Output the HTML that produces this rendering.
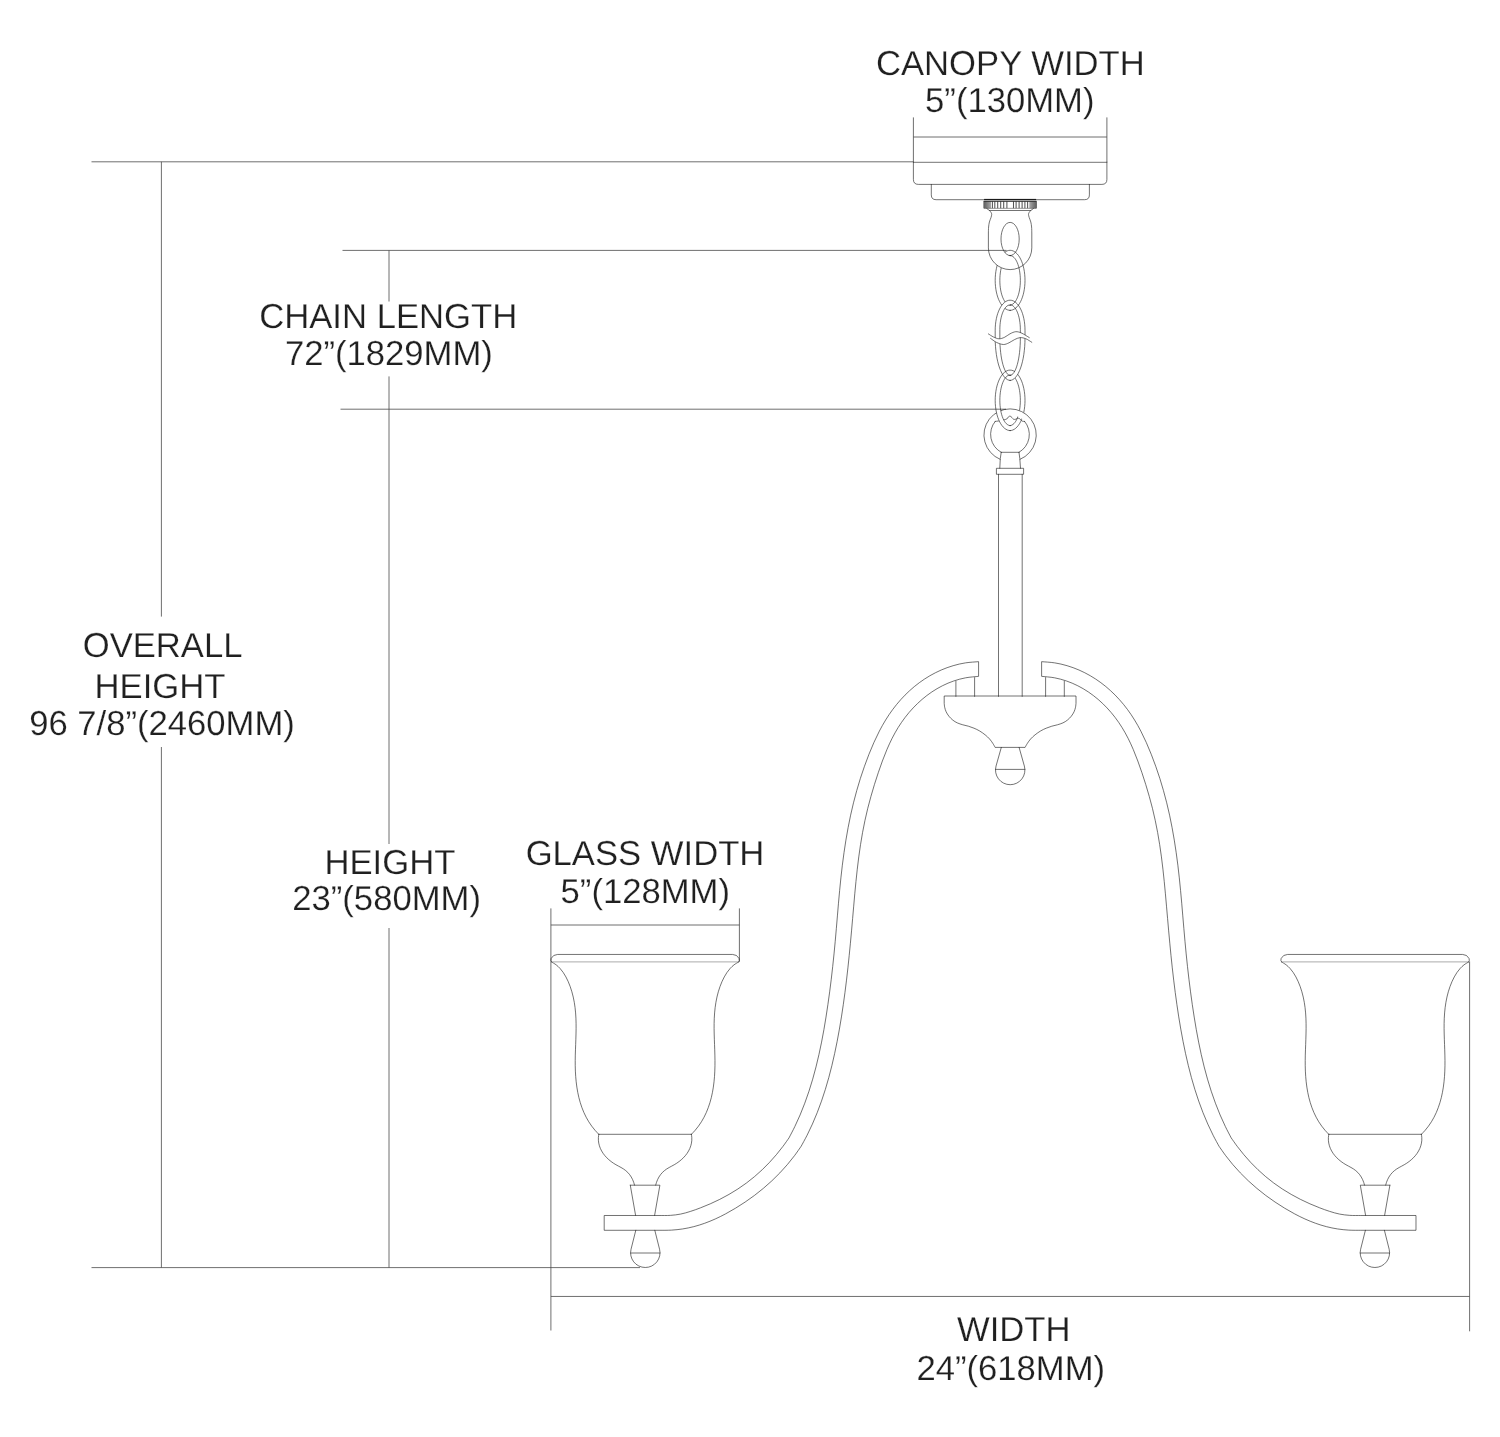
<!DOCTYPE html>
<html lang="en">
<head>
<meta charset="utf-8">
<title>Chandelier dimension diagram</title>
<style>
html,body{margin:0;padding:0;background:#fff;}
body{width:1500px;height:1437px;overflow:hidden;font-family:"Liberation Sans",sans-serif;}
svg{display:block;}
</style>
</head>
<body>
<svg width="1500" height="1437" viewBox="0 0 1500 1437">
<rect width="1500" height="1437" fill="#fff"/>
<path d="M91.5 161.8H913.4M91.5 1267.6H640M161.4 161.8V616.6M161.4 747V1267.6M342.5 250.4H1006.5M340.5 409.2H1006M389 250.4V301.5M389 376.4V844M389 928V1267.6M913.4 117.4V162M1106.9 117.4V162M913.4 137H1106.9M550.9 908.4V1330.5M739.4 908.4V961.8M550.9 925H739.4M550.9 1296.45H1469.6M1469.6 961.5V1331.3" fill="none" stroke="#4a4a4a" stroke-width="0.8"/>
<g fill="none" stroke="#1c1c1c" stroke-width="0.62" stroke-linecap="round" stroke-linejoin="round">
<path d="M913.4 162.3V179.4Q913.4 184.4 918.4 184.4H1101.9Q1106.9 184.4 1106.9 179.4V162.3M913.4 162.3H1106.9M931.3 184.4V194.9Q931.3 199.7 936.1 199.7H1084.6Q1089.4 199.7 1089.4 194.9V184.4"/>
<defs><linearGradient id="gl" x1="0" x2="1" y1="0" y2="0"><stop offset="0" stop-color="#5a5a5a"/><stop offset="0.5" stop-color="#808080"/><stop offset="1" stop-color="#a8a8a8"/></linearGradient><linearGradient id="gr" x1="1" x2="0" y1="0" y2="0"><stop offset="0" stop-color="#5a5a5a"/><stop offset="0.5" stop-color="#808080"/><stop offset="1" stop-color="#a8a8a8"/></linearGradient></defs>
<rect x="984.1" y="198.9" width="52" height="1.25" fill="#1a1a1a" stroke="none"/>
<path d="M983.3 201.2H1036.9V207.6Q1036.9 208.6 1035.9 208.6H984.3Q983.3 208.6 983.3 207.6Z" fill="#fff" stroke="none"/>
<rect x="983.4" y="201.4" width="7.6" height="7" fill="url(#gl)" stroke="none"/>
<rect x="1029.3" y="201.4" width="7.6" height="7" fill="url(#gr)" stroke="none"/>
<path d="M992.4 201.6V208.2M994.8 201.6V208.2M997.7 201.6V208.2M1000.7 201.6V208.2M1003.7 201.6V208.2M1006.9 201.6V208.2M1013.5 201.6V208.2M1016.1 201.6V208.2M1019.1 201.6V208.2M1022.1 201.6V208.2M1024.9 201.6V208.2M1027.6 201.6V208.2" stroke="#555" stroke-width="1.05" stroke-linecap="butt"/>
<path d="M983.6 201.3H1036.6" stroke="#111" stroke-width="0.9" stroke-linecap="butt"/>
<path d="M984 208.35H1036.2" stroke="#555" stroke-width="0.6" stroke-linecap="butt"/>
<path d="M986.8 208.6L989.5 210.5C989.75 210.82 990.63 211.75 991 212.4C991.37 213.05 991.7 213.55 991.7 214.4C991.7 215.25 991.38 216.23 991 217.5C990.62 218.77 989.8 220.42 989.4 222C989 223.58 988.77 225.17 988.6 227C988.43 228.83 988.43 232 988.4 233V247.9A21.65 21.65 0 0 0 1031.8 247.9V233C1031.77 232 1031.77 228.83 1031.6 227C1031.43 225.17 1031.2 223.58 1030.8 222C1030.4 220.42 1029.58 218.77 1029.2 217.5C1028.82 216.23 1028.5 215.25 1028.5 214.4C1028.5 213.55 1028.83 213.05 1029.2 212.4C1029.57 211.75 1030.45 210.82 1030.7 210.5L1033.4 208.6M989.5 210.5H1030.7"/>
<path d="M1010.1 255.6C1005.07 255.6 1001 248.17 1001 239C1001 229.83 1005.07 222.4 1010.1 222.4C1015.13 222.4 1019.2 229.83 1019.2 239C1019.2 248.17 1015.13 255.6 1010.1 255.6Z"/>
<defs>
<clipPath id="lh"><rect x="960" y="190" width="50.1" height="300"/></clipPath>
<clipPath id="rh"><rect x="1010.1" y="190" width="60" height="300"/></clipPath>
<mask id="m1" maskUnits="userSpaceOnUse" x="960" y="190" width="100" height="300"><rect x="960" y="190" width="100" height="300" fill="#fff" stroke="none"/><path d="M988.4 215V247.9A21.65 21.65 0 0 0 1031.8 247.9V215ZM1010.1 255.6C1005.07 255.6 1001 248.17 1001 239C1001 229.83 1005.07 222.4 1010.1 222.4C1015.13 222.4 1019.2 229.83 1019.2 239C1019.2 248.17 1015.13 255.6 1010.1 255.6Z" fill="#000" stroke="none" fill-rule="evenodd" clip-path="url(#lh)"/><path d="M1010.1 380.45C1001.87 380.45 995.2 361.44 995.2 338V330.25C995.2 313.65 1001.87 300.2 1010.1 300.2C1018.33 300.2 1025 313.65 1025 330.25V338C1025 361.44 1018.33 380.45 1010.1 380.45ZM1010.1 375.5C1004.44 375.5 999.85 358.71 999.85 338V329.65C999.85 315.98 1004.44 304.9 1010.1 304.9C1015.76 304.9 1020.35 315.98 1020.35 329.65V338C1020.35 358.71 1015.76 375.5 1010.1 375.5Z" fill="#000" stroke="none" fill-rule="evenodd" clip-path="url(#lh)"/></mask>
<mask id="m3" maskUnits="userSpaceOnUse" x="960" y="190" width="100" height="300"><rect x="960" y="190" width="100" height="300" fill="#fff" stroke="none"/><path d="M1010.1 380.45C1001.87 380.45 995.2 361.44 995.2 338V330.25C995.2 313.65 1001.87 300.2 1010.1 300.2C1018.33 300.2 1025 313.65 1025 330.25V338C1025 361.44 1018.33 380.45 1010.1 380.45ZM1010.1 375.5C1004.44 375.5 999.85 358.71 999.85 338V329.65C999.85 315.98 1004.44 304.9 1010.1 304.9C1015.76 304.9 1020.35 315.98 1020.35 329.65V338C1020.35 358.71 1015.76 375.5 1010.1 375.5Z" fill="#000" stroke="none" fill-rule="evenodd" clip-path="url(#rh)"/><path d="M1010.1 461.3C995.63 461.3 983.9 449.57 983.9 435.1C983.9 420.63 995.63 408.9 1010.1 408.9C1024.57 408.9 1036.3 420.63 1036.3 435.1C1036.3 449.57 1024.57 461.3 1010.1 461.3ZM1010.1 455.3C998.94 455.3 989.9 446.26 989.9 435.1C989.9 423.94 998.94 414.9 1010.1 414.9C1021.26 414.9 1030.3 423.94 1030.3 435.1C1030.3 446.26 1021.26 455.3 1010.1 455.3Z" fill="#000" stroke="none" fill-rule="evenodd" clip-path="url(#rh)"/></mask>
<mask id="mr" maskUnits="userSpaceOnUse" x="960" y="190" width="100" height="300"><rect x="960" y="190" width="100" height="300" fill="#fff" stroke="none"/><path d="M1010.1 430.6C1001.87 430.6 995.2 417.06 995.2 400.35C995.2 383.64 1001.87 370.1 1010.1 370.1C1018.33 370.1 1025 383.64 1025 400.35C1025 417.06 1018.33 430.6 1010.1 430.6ZM1010.1 425.6C1004.44 425.6 999.85 414.27 999.85 400.3C999.85 386.33 1004.44 375 1010.1 375C1015.76 375 1020.35 386.33 1020.35 400.3C1020.35 414.27 1015.76 425.6 1010.1 425.6Z" fill="#000" stroke="none" fill-rule="evenodd" clip-path="url(#lh)"/></mask>
</defs>
<path d="M1010.1 310.4C1001.87 310.4 995.2 296.95 995.2 280.35C995.2 263.75 1001.87 250.3 1010.1 250.3C1018.33 250.3 1025 263.75 1025 280.35C1025 296.95 1018.33 310.4 1010.1 310.4ZM1010.1 305.1C1004.44 305.1 999.85 294.02 999.85 280.35C999.85 266.68 1004.44 255.6 1010.1 255.6C1015.76 255.6 1020.35 266.68 1020.35 280.35C1020.35 294.02 1015.76 305.1 1010.1 305.1Z" mask="url(#m1)"/>
<path d="M1010.1 380.45C1001.87 380.45 995.2 361.44 995.2 338V330.25C995.2 313.65 1001.87 300.2 1010.1 300.2C1018.33 300.2 1025 313.65 1025 330.25V338C1025 361.44 1018.33 380.45 1010.1 380.45ZM1010.1 375.5C1004.44 375.5 999.85 358.71 999.85 338V329.65C999.85 315.98 1004.44 304.9 1010.1 304.9C1015.76 304.9 1020.35 315.98 1020.35 329.65V338C1020.35 358.71 1015.76 375.5 1010.1 375.5Z"/>
<path d="M988.4 333.9C989.25 334.42 991.73 336.18 993.5 337C995.27 337.82 997.17 338.75 999 338.8C1000.83 338.85 1002.67 338.13 1004.5 337.3C1006.33 336.47 1008.13 334.73 1010 333.8C1011.87 332.87 1013.87 331.87 1015.7 331.7C1017.53 331.53 1019.37 332.2 1021 332.8C1022.63 333.4 1024.12 334.5 1025.5 335.3C1026.88 336.1 1028.67 337.22 1029.3 337.6L1031.8 342.3C1031.33 342 1030.05 341.12 1029 340.5C1027.95 339.88 1026.98 339.08 1025.5 338.6C1024.02 338.12 1021.93 337.43 1020.1 337.6C1018.27 337.77 1016.35 338.73 1014.5 339.6C1012.65 340.47 1010.85 341.98 1009 342.8C1007.15 343.62 1005.48 344.57 1003.4 344.5C1001.32 344.43 998.63 343.42 996.5 342.4C994.37 341.38 991.58 339.07 990.6 338.4Z" fill="#fff" stroke="none"/>
<path d="M988.4 333.9C989.25 334.42 991.73 336.18 993.5 337C995.27 337.82 997.17 338.75 999 338.8C1000.83 338.85 1002.67 338.13 1004.5 337.3C1006.33 336.47 1008.13 334.73 1010 333.8C1011.87 332.87 1013.87 331.87 1015.7 331.7C1017.53 331.53 1019.37 332.2 1021 332.8C1022.63 333.4 1024.12 334.5 1025.5 335.3C1026.88 336.1 1028.67 337.22 1029.3 337.6M990.6 338.4C991.58 339.07 994.37 341.38 996.5 342.4C998.63 343.42 1001.32 344.43 1003.4 344.5C1005.48 344.57 1007.15 343.62 1009 342.8C1010.85 341.98 1012.65 340.47 1014.5 339.6C1016.35 338.73 1018.27 337.77 1020.1 337.6C1021.93 337.43 1024.02 338.12 1025.5 338.6C1026.98 339.08 1027.95 339.88 1029 340.5C1030.05 341.12 1031.33 342 1031.8 342.3"/>
<path d="M1010.1 430.6C1001.87 430.6 995.2 417.06 995.2 400.35C995.2 383.64 1001.87 370.1 1010.1 370.1C1018.33 370.1 1025 383.64 1025 400.35C1025 417.06 1018.33 430.6 1010.1 430.6ZM1010.1 425.6C1004.44 425.6 999.85 414.27 999.85 400.3C999.85 386.33 1004.44 375 1010.1 375C1015.76 375 1020.35 386.33 1020.35 400.3C1020.35 414.27 1015.76 425.6 1010.1 425.6Z" mask="url(#m3)"/>
<path d="M999.98 459.27A26.2 26.2 0 1 1 1020.13 459.3M995.2 421.4A20.2 20.2 0 0 0 1001.2 452.3M1019 452.3A20.2 20.2 0 0 0 1024.6 421.4M995.2 421.4C995.75 421.33 997.45 421.13 998.5 421C999.55 420.87 1000.48 420.83 1001.5 420.6C1002.52 420.37 1003.72 419.87 1004.6 419.6C1005.48 419.33 1006.17 419.45 1006.8 419C1007.43 418.55 1007.85 417.38 1008.4 416.9C1008.95 416.42 1009.5 415.98 1010.1 416.1C1010.7 416.22 1011.42 417.07 1012 417.6C1012.58 418.13 1012.97 419.03 1013.6 419.3C1014.23 419.57 1015.17 419.37 1015.8 419.2C1016.43 419.03 1016.8 418.4 1017.4 418.3C1018 418.2 1018.8 418.32 1019.4 418.6C1020 418.88 1020.5 419.57 1021 420C1021.5 420.43 1021.8 420.97 1022.4 421.2C1023 421.43 1024.23 421.37 1024.6 421.4" mask="url(#mr)"/>
<path d="M1001.2 452.3H1019M1001.2 452.3L1000.3 458.5L999.8 468.2M1019 452.3L1019.8 458.5L1020.5 468.2"/>
<rect x="996.8" y="468.3" width="26.8" height="6"/>
<path d="M998.5 474.3V696.4M1022.2 474.3V696.4"/>
<path d="M944.2 696.4V703.4C944.28 704.05 944.38 705.92 944.7 707.3C945.02 708.68 945.4 710.22 946.1 711.7C946.8 713.18 947.78 714.8 948.9 716.2C950.02 717.6 951.4 718.98 952.8 720.1C954.2 721.22 955.63 722.12 957.3 722.9C958.97 723.68 960.95 724.25 962.8 724.8C964.65 725.35 966.53 725.63 968.4 726.2C970.27 726.77 972.15 727.42 974 728.2C975.85 728.98 977.65 729.8 979.5 730.9C981.35 732 983.42 733.45 985.1 734.8C986.78 736.15 988.3 737.55 989.6 739C990.9 740.45 991.98 742.1 992.9 743.5C993.82 744.9 994.73 746.75 995.1 747.4H1025.1C1025.47 746.75 1026.38 744.9 1027.3 743.5C1028.22 742.1 1029.3 740.45 1030.6 739C1031.9 737.55 1033.42 736.15 1035.1 734.8C1036.78 733.45 1038.85 732 1040.7 730.9C1042.55 729.8 1044.35 728.98 1046.2 728.2C1048.05 727.42 1049.93 726.77 1051.8 726.2C1053.67 725.63 1055.55 725.35 1057.4 724.8C1059.25 724.25 1061.23 723.68 1062.9 722.9C1064.57 722.12 1066 721.22 1067.4 720.1C1068.8 718.98 1070.18 717.6 1071.3 716.2C1072.42 714.8 1073.4 713.18 1074.1 711.7C1074.8 710.22 1075.18 708.68 1075.5 707.3C1075.82 705.92 1075.92 704.05 1076 703.4V696.4Z"/>
<path d="M1001.3 747.4L996.05 766.01A14.7 14.7 0 1 0 1024.35 766.01L1019.1 747.4M995.51 769.4H1024.89"/>
<g><path d="M978.2 661.7C976.08 661.89 969.68 662.2 965.5 662.86C961.31 663.53 957.16 664.49 953.11 665.69C949.06 666.88 945.07 668.35 941.2 670.03C937.33 671.7 933.53 673.63 929.89 675.74C926.24 677.85 922.71 680.19 919.33 682.68C915.95 685.18 912.69 687.88 909.59 690.72C906.48 693.56 903.51 696.57 900.7 699.71C897.88 702.84 895.21 706.14 892.69 709.52C890.18 712.91 887.83 716.43 885.61 720.02C883.39 723.61 881.34 727.32 879.38 731.07C877.43 734.83 875.62 738.67 873.88 742.55C872.14 746.42 870.52 750.36 868.95 754.31C867.38 758.26 865.89 762.25 864.47 766.25C863.04 770.25 861.69 774.28 860.4 778.32C859.12 782.37 857.9 786.44 856.75 790.52C855.59 794.6 854.51 798.69 853.49 802.8C852.47 806.91 851.52 811.04 850.62 815.17C849.73 819.31 848.89 823.45 848.11 827.61C847.32 831.77 846.6 835.93 845.91 840.11C845.23 844.29 844.6 848.47 844 852.66C843.41 856.85 842.86 861.05 842.34 865.26C841.82 869.46 841.35 873.67 840.9 877.89C840.44 882.1 840.03 886.32 839.63 890.54C839.23 894.76 838.85 898.99 838.48 903.21C838.11 907.44 837.76 911.67 837.41 915.89C837.05 920.12 836.7 924.35 836.34 928.58C835.98 932.81 835.62 937.03 835.23 941.26C834.84 945.48 834.44 949.71 834.02 953.93C833.6 958.15 833.16 962.37 832.7 966.59C832.24 970.8 831.76 975.02 831.25 979.23C830.75 983.44 830.22 987.65 829.66 991.85C829.11 996.06 828.53 1000.26 827.92 1004.46C827.31 1008.66 826.68 1012.86 826.01 1017.05C825.34 1021.24 824.65 1025.43 823.91 1029.61C823.17 1033.79 822.39 1037.96 821.57 1042.12C820.74 1046.28 819.88 1050.43 818.95 1054.56C818.02 1058.69 817.05 1062.81 816 1066.91C814.96 1071.01 813.86 1075.09 812.69 1079.15C811.52 1083.2 810.28 1087.24 808.96 1091.25C807.64 1095.26 806.25 1099.24 804.77 1103.2C803.29 1107.15 801.74 1111.08 800.08 1114.97C798.42 1118.86 796.68 1122.72 794.84 1126.54C792.99 1130.37 789.97 1136.01 789 1137.9C787.98 1139.33 785 1143.67 782.9 1146.45C780.8 1149.24 778.64 1151.97 776.41 1154.62C774.18 1157.28 771.89 1159.87 769.53 1162.39C767.16 1164.91 764.73 1167.36 762.23 1169.73C759.74 1172.1 757.17 1174.4 754.53 1176.62C751.9 1178.84 749.19 1180.98 746.42 1183.04C743.65 1185.1 740.8 1187.08 737.89 1188.97C734.98 1190.87 732 1192.68 728.98 1194.41C725.96 1196.15 722.87 1197.79 719.75 1199.36C716.62 1200.93 713.45 1202.42 710.25 1203.83C707.05 1205.24 703.8 1206.57 700.54 1207.82C697.28 1209.08 693.99 1210.3 690.68 1211.34C687.36 1212.38 684.04 1213.4 680.66 1214.07C677.28 1214.74 673.85 1215.14 670.41 1215.37C666.96 1215.61 661.73 1215.47 660 1215.49H604.2V1230.3L660 1230.29C661.9 1230.26 667.61 1230.36 671.38 1230.13C675.16 1229.91 678.94 1229.52 682.67 1228.94C686.41 1228.36 690.12 1227.59 693.79 1226.65C697.45 1225.71 701.08 1224.56 704.66 1223.28C708.23 1222 711.77 1220.54 715.25 1218.97C718.73 1217.41 722.17 1215.68 725.55 1213.89C728.93 1212.09 732.26 1210.17 735.53 1208.2C738.8 1206.22 742.01 1204.17 745.16 1202.04C748.31 1199.91 751.41 1197.71 754.44 1195.44C757.46 1193.16 760.43 1190.82 763.32 1188.39C766.22 1185.97 769.05 1183.47 771.8 1180.89C774.56 1178.31 777.24 1175.66 779.85 1172.92C782.46 1170.19 785 1167.38 787.45 1164.49C789.9 1161.6 792.28 1158.63 794.57 1155.59C796.86 1152.54 800.1 1147.76 801.2 1146.2C802.18 1144.38 805.22 1138.94 807.08 1135.26C808.95 1131.57 810.72 1127.84 812.4 1124.08C814.08 1120.32 815.67 1116.52 817.19 1112.69C818.7 1108.86 820.13 1105 821.49 1101.11C822.85 1097.23 824.13 1093.31 825.35 1089.38C826.57 1085.44 827.72 1081.48 828.81 1077.5C829.9 1073.53 830.92 1069.53 831.9 1065.51C832.88 1061.5 833.79 1057.47 834.67 1053.44C835.55 1049.4 836.37 1045.35 837.16 1041.3C837.95 1037.24 838.69 1033.18 839.41 1029.12C840.12 1025.05 840.8 1020.98 841.45 1016.91C842.09 1012.84 842.71 1008.76 843.29 1004.68C843.88 1000.6 844.44 996.51 844.98 992.42C845.51 988.34 846.02 984.25 846.51 980.15C847 976.06 847.46 971.96 847.91 967.86C848.36 963.76 848.78 959.66 849.2 955.55C849.62 951.45 850.01 947.34 850.4 943.23C850.79 939.12 851.17 935 851.54 930.89C851.91 926.77 852.26 922.66 852.62 918.54C852.98 914.42 853.33 910.3 853.69 906.18C854.05 902.07 854.4 897.95 854.78 893.83C855.16 889.71 855.54 885.6 855.96 881.49C856.37 877.38 856.8 873.27 857.27 869.17C857.74 865.07 858.23 860.98 858.77 856.89C859.32 852.8 859.89 848.72 860.52 844.65C861.16 840.58 861.83 836.52 862.57 832.47C863.31 828.42 864.1 824.38 864.97 820.36C865.84 816.34 866.77 812.32 867.76 808.32C868.76 804.33 869.82 800.34 870.94 796.37C872.05 792.4 873.23 788.44 874.45 784.49C875.67 780.55 876.95 776.61 878.27 772.7C879.59 768.78 880.94 764.87 882.39 761C883.83 757.13 885.32 753.27 886.94 749.49C888.56 745.71 890.26 741.95 892.12 738.3C893.99 734.64 895.97 731.03 898.14 727.54C900.31 724.06 902.65 720.64 905.15 717.37C907.65 714.1 910.33 710.92 913.15 707.93C915.97 704.93 918.96 702.06 922.07 699.4C925.19 696.73 928.46 694.22 931.85 691.95C935.25 689.67 938.78 687.58 942.42 685.75C946.07 683.92 949.84 682.3 953.72 680.98C957.59 679.65 961.58 678.57 965.66 677.8C969.75 677.04 976.11 676.63 978.2 676.4ZM955.9 681.2V696.4M974.6 677.6V696.4"/><path d="M551.6 962C552.36 962.47 554.76 963.77 556.16 964.83C557.56 965.89 558.81 967.09 559.98 968.36C561.15 969.63 562.2 971.01 563.19 972.44C564.18 973.86 565.07 975.38 565.91 976.92C566.75 978.46 567.53 980.06 568.25 981.69C568.97 983.31 569.63 984.98 570.23 986.67C570.84 988.36 571.39 990.08 571.89 991.81C572.39 993.54 572.84 995.3 573.24 997.06C573.64 998.81 573.98 1000.59 574.29 1002.35C574.59 1004.12 574.85 1005.89 575.07 1007.65C575.29 1009.41 575.46 1011.18 575.6 1012.93C575.75 1014.69 575.85 1016.45 575.93 1018.21C576.01 1019.96 576.06 1021.72 576.08 1023.47C576.11 1025.22 576.11 1026.98 576.1 1028.73C576.09 1030.48 576.05 1032.24 576.01 1033.99C575.97 1035.74 575.91 1037.5 575.85 1039.25C575.79 1041.01 575.72 1042.76 575.66 1044.52C575.6 1046.28 575.53 1048.04 575.47 1049.8C575.41 1051.57 575.35 1053.33 575.31 1055.1C575.27 1056.87 575.23 1058.64 575.22 1060.41C575.21 1062.19 575.21 1063.96 575.24 1065.75C575.27 1067.53 575.31 1069.31 575.39 1071.1C575.46 1072.88 575.56 1074.67 575.69 1076.45C575.83 1078.23 575.98 1080.01 576.18 1081.79C576.37 1083.56 576.59 1085.33 576.85 1087.09C577.11 1088.85 577.41 1090.6 577.74 1092.34C578.08 1094.08 578.45 1095.81 578.87 1097.52C579.29 1099.23 579.75 1100.93 580.26 1102.61C580.76 1104.29 581.31 1105.96 581.92 1107.6C582.52 1109.24 583.17 1110.87 583.87 1112.46C584.58 1114.06 585.33 1115.64 586.15 1117.19C586.96 1118.73 587.83 1120.26 588.75 1121.75C589.68 1123.24 590.67 1124.7 591.72 1126.13C592.77 1127.56 593.88 1128.96 595.06 1130.32C596.24 1131.68 598.18 1133.64 598.8 1134.3M738.6 962C737.84 962.47 735.44 963.77 734.04 964.83C732.64 965.89 731.39 967.09 730.22 968.36C729.05 969.63 728 971.01 727.01 972.44C726.02 973.86 725.13 975.38 724.29 976.92C723.45 978.46 722.67 980.06 721.95 981.69C721.23 983.31 720.57 984.98 719.97 986.67C719.36 988.36 718.81 990.08 718.31 991.81C717.81 993.54 717.36 995.3 716.96 997.06C716.56 998.81 716.22 1000.59 715.91 1002.35C715.61 1004.12 715.35 1005.89 715.13 1007.65C714.91 1009.41 714.74 1011.18 714.6 1012.93C714.45 1014.69 714.35 1016.45 714.27 1018.21C714.19 1019.96 714.14 1021.72 714.12 1023.47C714.09 1025.22 714.09 1026.98 714.1 1028.73C714.11 1030.48 714.15 1032.24 714.19 1033.99C714.23 1035.74 714.29 1037.5 714.35 1039.25C714.41 1041.01 714.48 1042.76 714.54 1044.52C714.6 1046.28 714.67 1048.04 714.73 1049.8C714.79 1051.57 714.85 1053.33 714.89 1055.1C714.93 1056.87 714.97 1058.64 714.98 1060.41C714.99 1062.19 714.99 1063.96 714.96 1065.75C714.93 1067.53 714.89 1069.31 714.81 1071.1C714.74 1072.88 714.64 1074.67 714.51 1076.45C714.37 1078.23 714.22 1080.01 714.02 1081.79C713.83 1083.56 713.61 1085.33 713.35 1087.09C713.09 1088.85 712.79 1090.6 712.46 1092.34C712.12 1094.08 711.75 1095.81 711.33 1097.52C710.91 1099.23 710.45 1100.93 709.94 1102.61C709.44 1104.29 708.89 1105.96 708.28 1107.6C707.68 1109.24 707.03 1110.87 706.33 1112.46C705.62 1114.06 704.87 1115.64 704.05 1117.19C703.24 1118.73 702.37 1120.26 701.45 1121.75C700.52 1123.24 699.53 1124.7 698.48 1126.13C697.43 1127.56 696.32 1128.96 695.14 1130.32C693.96 1131.68 692.02 1133.64 691.4 1134.3M551.6 962Q550.2 960.4 551.2 958.4Q553 954.6 557.6 954.45H732.6Q737.2 954.6 739 958.4Q740 960.4 738.6 962M598.8 1134.3C598.74 1134.8 598.48 1136.33 598.41 1137.32C598.35 1138.32 598.35 1139.3 598.4 1140.26C598.46 1141.22 598.58 1142.17 598.74 1143.1C598.91 1144.03 599.14 1144.94 599.41 1145.83C599.68 1146.73 600.01 1147.6 600.38 1148.46C600.75 1149.32 601.17 1150.16 601.63 1150.97C602.08 1151.79 602.59 1152.58 603.12 1153.36C603.66 1154.13 604.24 1154.89 604.84 1155.62C605.45 1156.35 606.1 1157.05 606.77 1157.74C607.44 1158.42 608.14 1159.08 608.86 1159.71C609.59 1160.35 610.34 1160.96 611.11 1161.54C611.88 1162.13 612.68 1162.68 613.48 1163.21C614.29 1163.74 615.12 1164.24 615.95 1164.72C616.79 1165.2 617.64 1165.65 618.48 1166.1C619.32 1166.56 620.17 1167 621 1167.47C621.82 1167.94 622.64 1168.4 623.43 1168.92C624.22 1169.44 624.99 1169.98 625.71 1170.58C626.44 1171.17 627.14 1171.81 627.8 1172.49C628.46 1173.16 629.08 1173.89 629.66 1174.65C630.24 1175.41 630.78 1176.21 631.27 1177.04C631.76 1177.87 632.21 1178.74 632.62 1179.62C633.02 1180.5 633.38 1181.41 633.7 1182.33C634.01 1183.24 634.37 1184.64 634.5 1185.1M691.4 1134.3C691.46 1134.8 691.72 1136.33 691.79 1137.32C691.85 1138.32 691.85 1139.3 691.8 1140.26C691.74 1141.22 691.62 1142.17 691.46 1143.1C691.29 1144.03 691.06 1144.94 690.79 1145.83C690.52 1146.73 690.19 1147.6 689.82 1148.46C689.45 1149.32 689.03 1150.16 688.57 1150.97C688.12 1151.79 687.61 1152.58 687.08 1153.36C686.54 1154.13 685.96 1154.89 685.36 1155.62C684.75 1156.35 684.1 1157.05 683.43 1157.74C682.76 1158.42 682.06 1159.08 681.34 1159.71C680.61 1160.35 679.86 1160.96 679.09 1161.54C678.32 1162.13 677.52 1162.68 676.72 1163.21C675.91 1163.74 675.08 1164.24 674.25 1164.72C673.41 1165.2 672.56 1165.65 671.72 1166.1C670.88 1166.56 670.03 1167 669.2 1167.47C668.38 1167.94 667.56 1168.4 666.77 1168.92C665.98 1169.44 665.21 1169.98 664.49 1170.58C663.76 1171.17 663.06 1171.81 662.4 1172.49C661.74 1173.16 661.12 1173.89 660.54 1174.65C659.96 1175.41 659.42 1176.21 658.93 1177.04C658.44 1177.87 657.99 1178.74 657.58 1179.62C657.18 1180.5 656.82 1181.41 656.5 1182.33C656.19 1183.24 655.83 1184.64 655.7 1185.1M598.8 1134.3H691.4M630.3 1185.2H659.9L654.6 1215.4M630.3 1185.2L635.6 1215.4M635.8 1230.3L631.04 1249.22A14.7 14.7 0 1 0 659.56 1249.22L654.8 1230.3M630.6 1253H660"/><path d="M551.8 961.9H738.4" stroke="#777"/></g>
<g transform="translate(2020.2 0) scale(-1 1)"><path d="M978.2 661.7C976.08 661.89 969.68 662.2 965.5 662.86C961.31 663.53 957.16 664.49 953.11 665.69C949.06 666.88 945.07 668.35 941.2 670.03C937.33 671.7 933.53 673.63 929.89 675.74C926.24 677.85 922.71 680.19 919.33 682.68C915.95 685.18 912.69 687.88 909.59 690.72C906.48 693.56 903.51 696.57 900.7 699.71C897.88 702.84 895.21 706.14 892.69 709.52C890.18 712.91 887.83 716.43 885.61 720.02C883.39 723.61 881.34 727.32 879.38 731.07C877.43 734.83 875.62 738.67 873.88 742.55C872.14 746.42 870.52 750.36 868.95 754.31C867.38 758.26 865.89 762.25 864.47 766.25C863.04 770.25 861.69 774.28 860.4 778.32C859.12 782.37 857.9 786.44 856.75 790.52C855.59 794.6 854.51 798.69 853.49 802.8C852.47 806.91 851.52 811.04 850.62 815.17C849.73 819.31 848.89 823.45 848.11 827.61C847.32 831.77 846.6 835.93 845.91 840.11C845.23 844.29 844.6 848.47 844 852.66C843.41 856.85 842.86 861.05 842.34 865.26C841.82 869.46 841.35 873.67 840.9 877.89C840.44 882.1 840.03 886.32 839.63 890.54C839.23 894.76 838.85 898.99 838.48 903.21C838.11 907.44 837.76 911.67 837.41 915.89C837.05 920.12 836.7 924.35 836.34 928.58C835.98 932.81 835.62 937.03 835.23 941.26C834.84 945.48 834.44 949.71 834.02 953.93C833.6 958.15 833.16 962.37 832.7 966.59C832.24 970.8 831.76 975.02 831.25 979.23C830.75 983.44 830.22 987.65 829.66 991.85C829.11 996.06 828.53 1000.26 827.92 1004.46C827.31 1008.66 826.68 1012.86 826.01 1017.05C825.34 1021.24 824.65 1025.43 823.91 1029.61C823.17 1033.79 822.39 1037.96 821.57 1042.12C820.74 1046.28 819.88 1050.43 818.95 1054.56C818.02 1058.69 817.05 1062.81 816 1066.91C814.96 1071.01 813.86 1075.09 812.69 1079.15C811.52 1083.2 810.28 1087.24 808.96 1091.25C807.64 1095.26 806.25 1099.24 804.77 1103.2C803.29 1107.15 801.74 1111.08 800.08 1114.97C798.42 1118.86 796.68 1122.72 794.84 1126.54C792.99 1130.37 789.97 1136.01 789 1137.9C787.98 1139.33 785 1143.67 782.9 1146.45C780.8 1149.24 778.64 1151.97 776.41 1154.62C774.18 1157.28 771.89 1159.87 769.53 1162.39C767.16 1164.91 764.73 1167.36 762.23 1169.73C759.74 1172.1 757.17 1174.4 754.53 1176.62C751.9 1178.84 749.19 1180.98 746.42 1183.04C743.65 1185.1 740.8 1187.08 737.89 1188.97C734.98 1190.87 732 1192.68 728.98 1194.41C725.96 1196.15 722.87 1197.79 719.75 1199.36C716.62 1200.93 713.45 1202.42 710.25 1203.83C707.05 1205.24 703.8 1206.57 700.54 1207.82C697.28 1209.08 693.99 1210.3 690.68 1211.34C687.36 1212.38 684.04 1213.4 680.66 1214.07C677.28 1214.74 673.85 1215.14 670.41 1215.37C666.96 1215.61 661.73 1215.47 660 1215.49H604.2V1230.3L660 1230.29C661.9 1230.26 667.61 1230.36 671.38 1230.13C675.16 1229.91 678.94 1229.52 682.67 1228.94C686.41 1228.36 690.12 1227.59 693.79 1226.65C697.45 1225.71 701.08 1224.56 704.66 1223.28C708.23 1222 711.77 1220.54 715.25 1218.97C718.73 1217.41 722.17 1215.68 725.55 1213.89C728.93 1212.09 732.26 1210.17 735.53 1208.2C738.8 1206.22 742.01 1204.17 745.16 1202.04C748.31 1199.91 751.41 1197.71 754.44 1195.44C757.46 1193.16 760.43 1190.82 763.32 1188.39C766.22 1185.97 769.05 1183.47 771.8 1180.89C774.56 1178.31 777.24 1175.66 779.85 1172.92C782.46 1170.19 785 1167.38 787.45 1164.49C789.9 1161.6 792.28 1158.63 794.57 1155.59C796.86 1152.54 800.1 1147.76 801.2 1146.2C802.18 1144.38 805.22 1138.94 807.08 1135.26C808.95 1131.57 810.72 1127.84 812.4 1124.08C814.08 1120.32 815.67 1116.52 817.19 1112.69C818.7 1108.86 820.13 1105 821.49 1101.11C822.85 1097.23 824.13 1093.31 825.35 1089.38C826.57 1085.44 827.72 1081.48 828.81 1077.5C829.9 1073.53 830.92 1069.53 831.9 1065.51C832.88 1061.5 833.79 1057.47 834.67 1053.44C835.55 1049.4 836.37 1045.35 837.16 1041.3C837.95 1037.24 838.69 1033.18 839.41 1029.12C840.12 1025.05 840.8 1020.98 841.45 1016.91C842.09 1012.84 842.71 1008.76 843.29 1004.68C843.88 1000.6 844.44 996.51 844.98 992.42C845.51 988.34 846.02 984.25 846.51 980.15C847 976.06 847.46 971.96 847.91 967.86C848.36 963.76 848.78 959.66 849.2 955.55C849.62 951.45 850.01 947.34 850.4 943.23C850.79 939.12 851.17 935 851.54 930.89C851.91 926.77 852.26 922.66 852.62 918.54C852.98 914.42 853.33 910.3 853.69 906.18C854.05 902.07 854.4 897.95 854.78 893.83C855.16 889.71 855.54 885.6 855.96 881.49C856.37 877.38 856.8 873.27 857.27 869.17C857.74 865.07 858.23 860.98 858.77 856.89C859.32 852.8 859.89 848.72 860.52 844.65C861.16 840.58 861.83 836.52 862.57 832.47C863.31 828.42 864.1 824.38 864.97 820.36C865.84 816.34 866.77 812.32 867.76 808.32C868.76 804.33 869.82 800.34 870.94 796.37C872.05 792.4 873.23 788.44 874.45 784.49C875.67 780.55 876.95 776.61 878.27 772.7C879.59 768.78 880.94 764.87 882.39 761C883.83 757.13 885.32 753.27 886.94 749.49C888.56 745.71 890.26 741.95 892.12 738.3C893.99 734.64 895.97 731.03 898.14 727.54C900.31 724.06 902.65 720.64 905.15 717.37C907.65 714.1 910.33 710.92 913.15 707.93C915.97 704.93 918.96 702.06 922.07 699.4C925.19 696.73 928.46 694.22 931.85 691.95C935.25 689.67 938.78 687.58 942.42 685.75C946.07 683.92 949.84 682.3 953.72 680.98C957.59 679.65 961.58 678.57 965.66 677.8C969.75 677.04 976.11 676.63 978.2 676.4ZM955.9 681.2V696.4M974.6 677.6V696.4"/><path d="M551.6 962C552.36 962.47 554.76 963.77 556.16 964.83C557.56 965.89 558.81 967.09 559.98 968.36C561.15 969.63 562.2 971.01 563.19 972.44C564.18 973.86 565.07 975.38 565.91 976.92C566.75 978.46 567.53 980.06 568.25 981.69C568.97 983.31 569.63 984.98 570.23 986.67C570.84 988.36 571.39 990.08 571.89 991.81C572.39 993.54 572.84 995.3 573.24 997.06C573.64 998.81 573.98 1000.59 574.29 1002.35C574.59 1004.12 574.85 1005.89 575.07 1007.65C575.29 1009.41 575.46 1011.18 575.6 1012.93C575.75 1014.69 575.85 1016.45 575.93 1018.21C576.01 1019.96 576.06 1021.72 576.08 1023.47C576.11 1025.22 576.11 1026.98 576.1 1028.73C576.09 1030.48 576.05 1032.24 576.01 1033.99C575.97 1035.74 575.91 1037.5 575.85 1039.25C575.79 1041.01 575.72 1042.76 575.66 1044.52C575.6 1046.28 575.53 1048.04 575.47 1049.8C575.41 1051.57 575.35 1053.33 575.31 1055.1C575.27 1056.87 575.23 1058.64 575.22 1060.41C575.21 1062.19 575.21 1063.96 575.24 1065.75C575.27 1067.53 575.31 1069.31 575.39 1071.1C575.46 1072.88 575.56 1074.67 575.69 1076.45C575.83 1078.23 575.98 1080.01 576.18 1081.79C576.37 1083.56 576.59 1085.33 576.85 1087.09C577.11 1088.85 577.41 1090.6 577.74 1092.34C578.08 1094.08 578.45 1095.81 578.87 1097.52C579.29 1099.23 579.75 1100.93 580.26 1102.61C580.76 1104.29 581.31 1105.96 581.92 1107.6C582.52 1109.24 583.17 1110.87 583.87 1112.46C584.58 1114.06 585.33 1115.64 586.15 1117.19C586.96 1118.73 587.83 1120.26 588.75 1121.75C589.68 1123.24 590.67 1124.7 591.72 1126.13C592.77 1127.56 593.88 1128.96 595.06 1130.32C596.24 1131.68 598.18 1133.64 598.8 1134.3M738.6 962C737.84 962.47 735.44 963.77 734.04 964.83C732.64 965.89 731.39 967.09 730.22 968.36C729.05 969.63 728 971.01 727.01 972.44C726.02 973.86 725.13 975.38 724.29 976.92C723.45 978.46 722.67 980.06 721.95 981.69C721.23 983.31 720.57 984.98 719.97 986.67C719.36 988.36 718.81 990.08 718.31 991.81C717.81 993.54 717.36 995.3 716.96 997.06C716.56 998.81 716.22 1000.59 715.91 1002.35C715.61 1004.12 715.35 1005.89 715.13 1007.65C714.91 1009.41 714.74 1011.18 714.6 1012.93C714.45 1014.69 714.35 1016.45 714.27 1018.21C714.19 1019.96 714.14 1021.72 714.12 1023.47C714.09 1025.22 714.09 1026.98 714.1 1028.73C714.11 1030.48 714.15 1032.24 714.19 1033.99C714.23 1035.74 714.29 1037.5 714.35 1039.25C714.41 1041.01 714.48 1042.76 714.54 1044.52C714.6 1046.28 714.67 1048.04 714.73 1049.8C714.79 1051.57 714.85 1053.33 714.89 1055.1C714.93 1056.87 714.97 1058.64 714.98 1060.41C714.99 1062.19 714.99 1063.96 714.96 1065.75C714.93 1067.53 714.89 1069.31 714.81 1071.1C714.74 1072.88 714.64 1074.67 714.51 1076.45C714.37 1078.23 714.22 1080.01 714.02 1081.79C713.83 1083.56 713.61 1085.33 713.35 1087.09C713.09 1088.85 712.79 1090.6 712.46 1092.34C712.12 1094.08 711.75 1095.81 711.33 1097.52C710.91 1099.23 710.45 1100.93 709.94 1102.61C709.44 1104.29 708.89 1105.96 708.28 1107.6C707.68 1109.24 707.03 1110.87 706.33 1112.46C705.62 1114.06 704.87 1115.64 704.05 1117.19C703.24 1118.73 702.37 1120.26 701.45 1121.75C700.52 1123.24 699.53 1124.7 698.48 1126.13C697.43 1127.56 696.32 1128.96 695.14 1130.32C693.96 1131.68 692.02 1133.64 691.4 1134.3M551.6 962Q550.2 960.4 551.2 958.4Q553 954.6 557.6 954.45H732.6Q737.2 954.6 739 958.4Q740 960.4 738.6 962M598.8 1134.3C598.74 1134.8 598.48 1136.33 598.41 1137.32C598.35 1138.32 598.35 1139.3 598.4 1140.26C598.46 1141.22 598.58 1142.17 598.74 1143.1C598.91 1144.03 599.14 1144.94 599.41 1145.83C599.68 1146.73 600.01 1147.6 600.38 1148.46C600.75 1149.32 601.17 1150.16 601.63 1150.97C602.08 1151.79 602.59 1152.58 603.12 1153.36C603.66 1154.13 604.24 1154.89 604.84 1155.62C605.45 1156.35 606.1 1157.05 606.77 1157.74C607.44 1158.42 608.14 1159.08 608.86 1159.71C609.59 1160.35 610.34 1160.96 611.11 1161.54C611.88 1162.13 612.68 1162.68 613.48 1163.21C614.29 1163.74 615.12 1164.24 615.95 1164.72C616.79 1165.2 617.64 1165.65 618.48 1166.1C619.32 1166.56 620.17 1167 621 1167.47C621.82 1167.94 622.64 1168.4 623.43 1168.92C624.22 1169.44 624.99 1169.98 625.71 1170.58C626.44 1171.17 627.14 1171.81 627.8 1172.49C628.46 1173.16 629.08 1173.89 629.66 1174.65C630.24 1175.41 630.78 1176.21 631.27 1177.04C631.76 1177.87 632.21 1178.74 632.62 1179.62C633.02 1180.5 633.38 1181.41 633.7 1182.33C634.01 1183.24 634.37 1184.64 634.5 1185.1M691.4 1134.3C691.46 1134.8 691.72 1136.33 691.79 1137.32C691.85 1138.32 691.85 1139.3 691.8 1140.26C691.74 1141.22 691.62 1142.17 691.46 1143.1C691.29 1144.03 691.06 1144.94 690.79 1145.83C690.52 1146.73 690.19 1147.6 689.82 1148.46C689.45 1149.32 689.03 1150.16 688.57 1150.97C688.12 1151.79 687.61 1152.58 687.08 1153.36C686.54 1154.13 685.96 1154.89 685.36 1155.62C684.75 1156.35 684.1 1157.05 683.43 1157.74C682.76 1158.42 682.06 1159.08 681.34 1159.71C680.61 1160.35 679.86 1160.96 679.09 1161.54C678.32 1162.13 677.52 1162.68 676.72 1163.21C675.91 1163.74 675.08 1164.24 674.25 1164.72C673.41 1165.2 672.56 1165.65 671.72 1166.1C670.88 1166.56 670.03 1167 669.2 1167.47C668.38 1167.94 667.56 1168.4 666.77 1168.92C665.98 1169.44 665.21 1169.98 664.49 1170.58C663.76 1171.17 663.06 1171.81 662.4 1172.49C661.74 1173.16 661.12 1173.89 660.54 1174.65C659.96 1175.41 659.42 1176.21 658.93 1177.04C658.44 1177.87 657.99 1178.74 657.58 1179.62C657.18 1180.5 656.82 1181.41 656.5 1182.33C656.19 1183.24 655.83 1184.64 655.7 1185.1M598.8 1134.3H691.4M630.3 1185.2H659.9L654.6 1215.4M630.3 1185.2L635.6 1215.4M635.8 1230.3L631.04 1249.22A14.7 14.7 0 1 0 659.56 1249.22L654.8 1230.3M630.6 1253H660"/><path d="M551.8 961.9H738.4" stroke="#777"/></g>
</g>
<g font-family="'Liberation Sans', sans-serif" font-size="34.65" fill="#231f20" stroke="#fff" stroke-width="0.2" text-anchor="middle" style="text-rendering:geometricPrecision;filter:grayscale(1)">
<text x="1010.4" y="74.7">CANOPY WIDTH</text>
<text x="1009.8" y="112.2">5”(130MM)</text>
<text x="388.2" y="328.1">CHAIN LENGTH</text>
<text x="388.9" y="365.3">72”(1829MM)</text>
<text x="162.6" y="657.4">OVERALL</text>
<text x="160" y="697.8">HEIGHT</text>
<text x="162" y="735">96 7/8”(2460MM)</text>
<text x="389.9" y="873.7">HEIGHT</text>
<text x="386.6" y="910">23”(580MM)</text>
<text x="645" y="865">GLASS WIDTH</text>
<text x="645.3" y="903">5”(128MM)</text>
<text x="1013.8" y="1340.9">WIDTH</text>
<text x="1010.8" y="1379.6">24”(618MM)</text>
</g>
</svg>
</body>
</html>
